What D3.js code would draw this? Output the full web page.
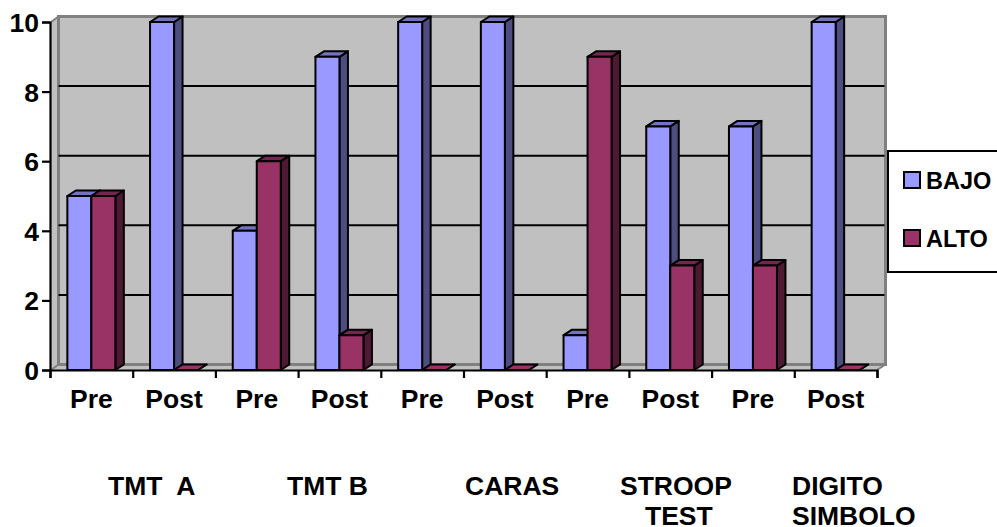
<!DOCTYPE html>
<html>
<head>
<meta charset="utf-8">
<script src="https://cdn.jsdelivr.net/npm/d3@7"></script>
<style>
  html, body { margin: 0; padding: 0; background: #fff; }
  svg { display: block; }
  text { font-family: "Liberation Sans", Arial, sans-serif; font-weight: bold; fill: #000; }
</style>
</head>
<body>
<script>
// values
var sessions = ["Pre", "Post", "Pre", "Post", "Pre", "Post", "Pre", "Post", "Pre", "Post"];
var bajo = [5, 10, 4, 9, 10, 10, 1, 7, 7, 10];
var alto = [5, 0, 6, 1, 0, 0, 9, 3, 3, 0];
var seriesNames = ["BAJO", "ALTO"];
var yTicks = [0, 2, 4, 6, 8, 10];
var testNames = [["TMT  A"], ["TMT B"], ["CARAS"], ["STROOP", "TEST"], ["DIGITO", "SIMBOLO"]];

var width = 997, height = 527;
var x0 = 50, x1 = 877, yBase = 370, yTop = 22;   // front plane of the 3d box
var dx = 8.5, dy = -5.5;                         // depth of the 3d effect
var barW = 24;
var fontSize = "26.5px";

var front = { BAJO: "#9999ff", ALTO: "#993366" };
var side = { BAJO: "#4d4d80", ALTO: "#4d1933" };
var topc = { BAJO: "#7373bf", ALTO: "#732650" };

var svg = d3.select("body").append("svg")
    .attr("width", width)
    .attr("height", height);

var slots = d3.range(sessions.length);
var x = d3.scaleBand().domain(slots).range([x0, x1]);
var xEdges = d3.scaleLinear().domain([0, sessions.length]).range([x0, x1]);
var y = d3.scaleLinear().domain([0, 10]).range([yBase, yTop]);

function poly(pts) { return pts.map(function(p){ return p.join(","); }).join(" "); }

// walls of the box
var wall = svg.append("g");
wall.append("polygon")
    .attr("points", poly([[x0, yBase], [x0 + dx, yBase + dy], [x0 + dx, yTop + dy], [x0, yTop]]))
    .style("fill", "#c0c0c0");
wall.append("polygon")
    .attr("points", poly([[x0, yBase], [x1, yBase], [x1 + dx, yBase + dy], [x0 + dx, yBase + dy]]))
    .style("fill", "#c0c0c0");
wall.append("rect")
    .attr("x", x0 + dx).attr("y", yTop + dy)
    .attr("width", x1 - x0).attr("height", yBase - yTop)
    .style("fill", "#c0c0c0")
    .style("stroke", "#808080")
    .style("stroke-width", 3);
wall.append("line")
    .attr("x1", x0 + 1).attr("y1", yTop)
    .attr("x2", x0 + dx).attr("y2", yTop + dy)
    .style("stroke", "#808080")
    .style("stroke-width", 2);
wall.append("line")
    .attr("x1", x0 + 1).attr("y1", yBase)
    .attr("x2", x0 + dx).attr("y2", yBase + dy)
    .style("stroke", "#808080")
    .style("stroke-width", 2);
wall.append("line")
    .attr("x1", x1).attr("y1", yBase)
    .attr("x2", x1 + dx).attr("y2", yBase + dy)
    .style("stroke", "#808080")
    .style("stroke-width", 2);

// gridlines on the back wall
wall.selectAll("line.grid")
    .data(yTicks.filter(function(d){ return d > 0 && d < 10; }))
    .enter().append("line")
    .attr("class", "grid")
    .attr("x1", x0 + dx).attr("x2", x1 + dx - 1)
    .attr("y1", function(d){ return y(d) + dy; })
    .attr("y2", function(d){ return y(d) + dy; })
    .style("stroke", "#000")
    .style("stroke-width", 2);

// bars, painted left to right so the depth overlaps properly
var barData = [];
slots.forEach(function(i){
    seriesNames.forEach(function(name, j){
        barData.push({ slot: i, name: name, j: j, value: (j === 0 ? bajo : alto)[i] });
    });
});

var bars = svg.selectAll("g.bar").data(barData).enter().append("g").attr("class", "bar")
    .style("stroke", "#000")
    .style("stroke-width", 2)
    .style("stroke-linejoin", "round");

function barLeft(d){ return x(d.slot) + x.bandwidth() / 2 - barW + d.j * barW; }

bars.append("polygon")
    .attr("points", function(d){
        var l = barLeft(d) + barW, t = y(d.value);
        return poly([[l, t], [l + dx, t + dy], [l + dx, yBase + dy], [l, yBase]]);
    })
    .style("fill", function(d){ return side[d.name]; });
bars.append("polygon")
    .attr("points", function(d){
        var l = barLeft(d), t = y(d.value);
        return poly([[l, t], [l + dx, t + dy], [l + barW + dx, t + dy], [l + barW, t]]);
    })
    .style("fill", function(d){ return d.value === 0 ? front[d.name] : topc[d.name]; });
bars.filter(function(d){ return d.value > 0; }).append("rect")
    .attr("x", barLeft)
    .attr("y", function(d){ return y(d.value); })
    .attr("width", barW)
    .attr("height", function(d){ return yBase - y(d.value); })
    .style("fill", function(d){ return front[d.name]; });

// axes
var yAxis = d3.axisLeft(y).tickValues(yTicks).tickSize(8).tickPadding(3);
var gy = svg.append("g").attr("transform", "translate(" + x0 + ",0)").call(yAxis);
gy.selectAll("text").style("font-size", fontSize).attr("dy", "0.36em");

var edgeAxis = d3.axisBottom(xEdges).ticks(sessions.length).tickFormat("").tickSize(8);
svg.append("g").attr("transform", "translate(0," + yBase + ")").call(edgeAxis);

var xAxis = d3.axisBottom(x).tickSize(0).tickPadding(19)
    .tickFormat(function(i){ return sessions[i]; });
var gx = svg.append("g").attr("transform", "translate(0," + yBase + ")").call(xAxis);
gx.select(".domain").remove();
gx.selectAll("text").style("font-size", fontSize);

svg.selectAll(".domain, .tick line").style("stroke", "#000").style("stroke-width", 2.2);

// test names under the sessions, placed by hand as in the original
var testX = [108, 287, 465, 620, 792];
var testAnchorX = [[0], [0], [0], [0, 25], [0, 0]];
testNames.forEach(function(lines, i){
    lines.forEach(function(line, k){
        svg.append("text")
            .attr("x", testX[i] + testAnchorX[i][k])
            .attr("y", 495 + k * 30)
            .attr("xml:space", "preserve")
            .style("white-space", "pre")
            .style("font-size", fontSize)
            .text(line);
    });
});

// legend
var legend = svg.append("g");
legend.append("rect")
    .attr("x", 888).attr("y", 151)
    .attr("width", 130).attr("height", 121)
    .style("fill", "#fff")
    .style("stroke", "#000")
    .style("stroke-width", 2);
var legendRow = d3.scalePoint().domain(seriesNames).range([180, 238]);
seriesNames.forEach(function(name){
    legend.append("rect")
        .attr("x", 904).attr("y", legendRow(name) - 8)
        .attr("width", 16).attr("height", 16)
        .style("fill", front[name])
        .style("stroke", "#000")
        .style("stroke-width", 2);
    legend.append("text")
        .attr("x", 926).attr("y", legendRow(name) + 8.5)
        .style("font-size", "23.5px")
        .text(name);
});
</script>
</body>
</html>
